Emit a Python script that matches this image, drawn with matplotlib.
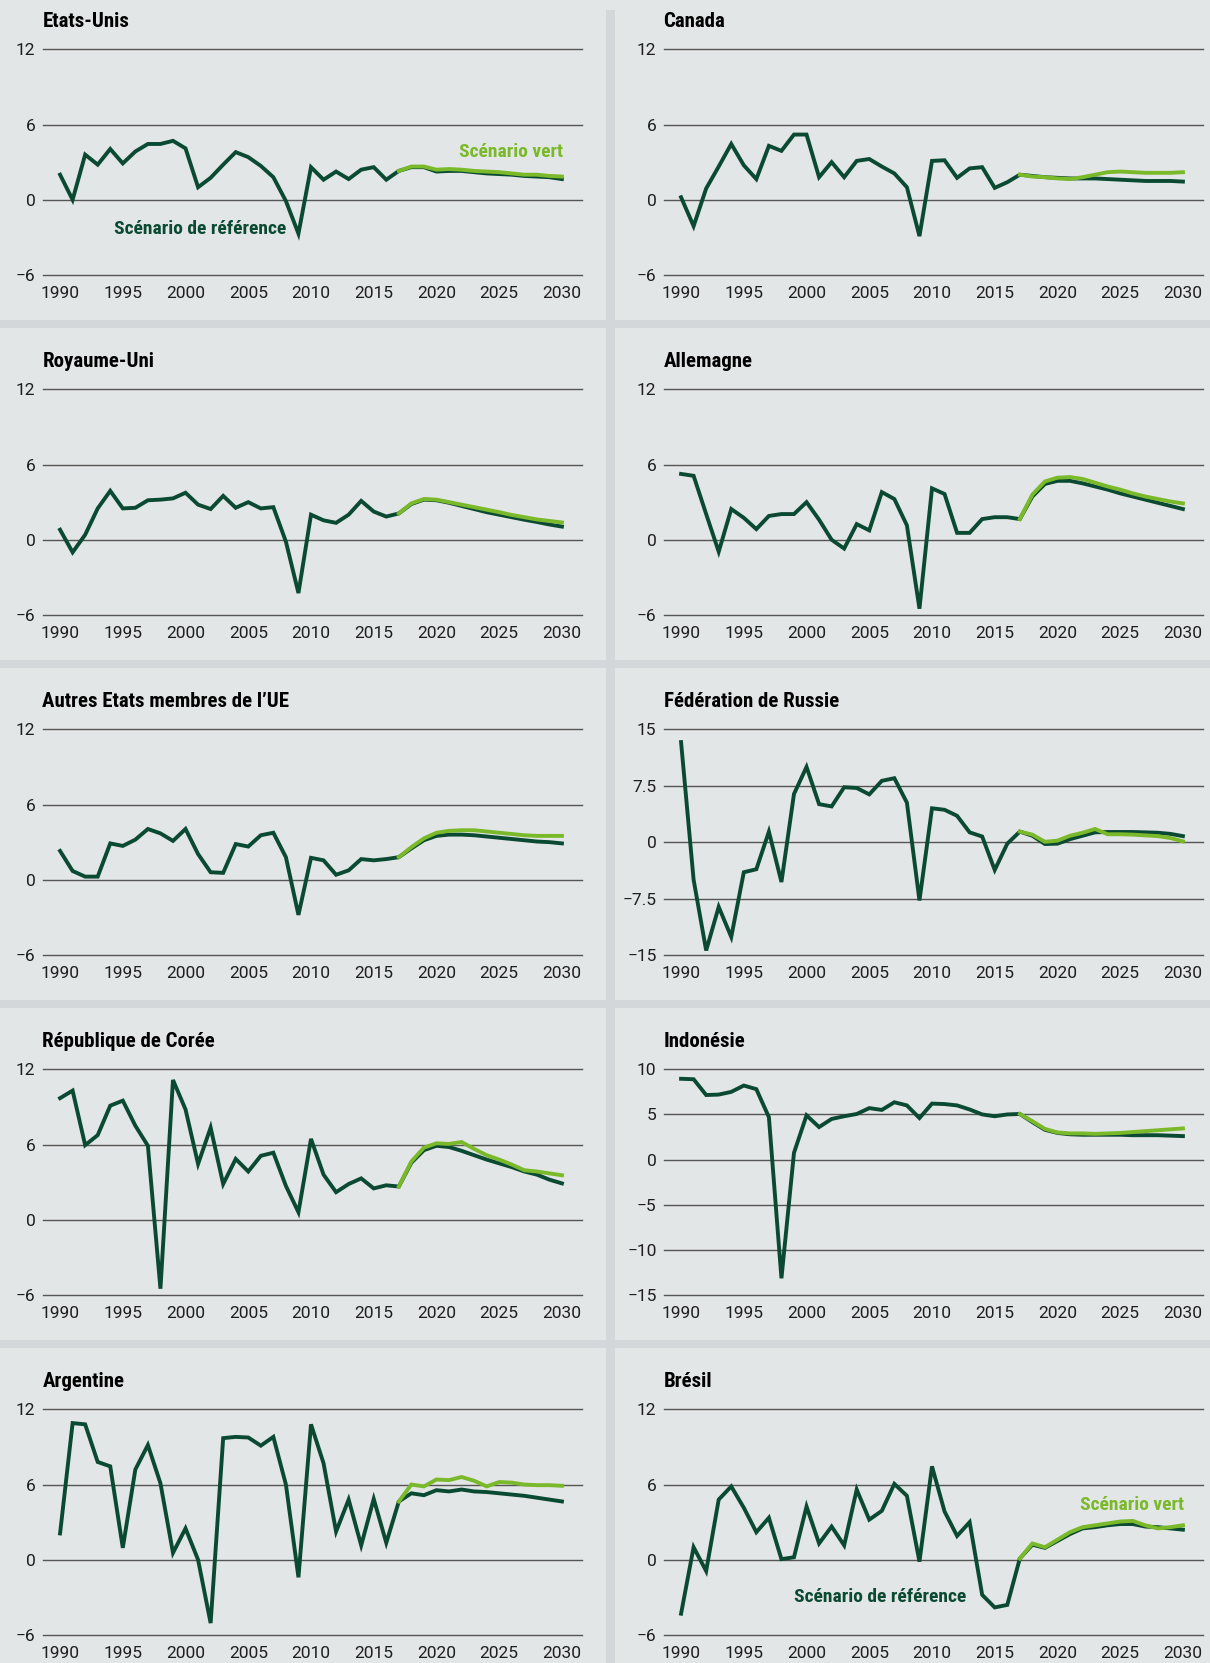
import matplotlib
matplotlib.use("Agg")
import matplotlib.pyplot as plt
from matplotlib import font_manager
from matplotlib.patches import Rectangle
from matplotlib.ticker import FuncFormatter

# years
hist_years = list(range(1990, 2018))
proj_years = list(range(2017, 2031))

# growth rates (%), historical 1990-2017, then projections 2018-2030
us_hist = [2.0, 0.0, 3.6, 2.8, 4.05, 2.9, 3.85, 4.45, 4.45, 4.7, 4.1, 1.0, 1.75, 2.8,
           3.8, 3.4, 2.7, 1.8, -0.1, -2.7, 2.6, 1.6, 2.25, 1.65, 2.4, 2.6, 1.6, 2.3]
us_ref = [2.6, 2.6, 2.25, 2.3, 2.3, 2.2, 2.1, 2.05, 2.0, 1.9, 1.85, 1.8, 1.65]
us_vert = [2.65, 2.65, 2.4, 2.45, 2.4, 2.3, 2.25, 2.2, 2.1, 2.0, 2.0, 1.9, 1.85]

ca_hist = [0.2, -2.1, 0.9, 2.65, 4.45, 2.75, 1.65, 4.3, 3.9, 5.2, 5.2, 1.8, 3.0, 1.8,
           3.1, 3.25, 2.65, 2.1, 1.0, -2.9, 3.1, 3.15, 1.75, 2.5, 2.6, 0.95, 1.4, 2.0]
ca_ref = [1.9, 1.8, 1.75, 1.7, 1.7, 1.7, 1.65, 1.6, 1.55, 1.5, 1.5, 1.5, 1.45]
ca_vert = [1.85, 1.8, 1.7, 1.65, 1.8, 2.0, 2.2, 2.25, 2.2, 2.15, 2.15, 2.15, 2.2]

uk_hist = [0.8, -1.0, 0.4, 2.5, 3.9, 2.5, 2.55, 3.15, 3.2, 3.3, 3.75, 2.8, 2.45, 3.5,
           2.55, 3.0, 2.5, 2.6, -0.15, -4.25, 2.0, 1.55, 1.35, 2.0, 3.1, 2.25, 1.85, 2.1]
uk_ref = [2.85, 3.2, 3.15, 2.95, 2.7, 2.45, 2.2, 2.0, 1.8, 1.6, 1.42, 1.22, 1.05]
uk_vert = [2.9, 3.25, 3.2, 3.0, 2.8, 2.6, 2.4, 2.2, 1.98, 1.8, 1.62, 1.5, 1.38]

de_hist = [5.25, 5.1, 2.05, -0.95, 2.45, 1.75, 0.85, 1.9, 2.05, 2.05, 3.0, 1.6, 0.0, -0.7,
           1.25, 0.75, 3.8, 3.25, 1.15, -5.5, 4.1, 3.65, 0.55, 0.55, 1.65, 1.8, 1.8, 1.65]
de_ref = [3.45, 4.45, 4.7, 4.7, 4.5, 4.25, 4.0, 3.7, 3.45, 3.2, 2.95, 2.7, 2.45]
de_vert = [3.6, 4.65, 4.95, 5.0, 4.85, 4.55, 4.25, 4.0, 3.7, 3.45, 3.25, 3.05, 2.9]

eu_hist = [2.3, 0.7, 0.25, 0.25, 2.9, 2.7, 3.2, 4.05, 3.7, 3.1, 4.05, 2.05, 0.6, 0.55,
           2.85, 2.65, 3.55, 3.75, 1.8, -2.8, 1.75, 1.55, 0.4, 0.75, 1.65, 1.55, 1.65, 1.8]
eu_ref = [2.5, 3.15, 3.5, 3.6, 3.6, 3.55, 3.45, 3.35, 3.25, 3.15, 3.05, 3.0, 2.9]
eu_vert = [2.6, 3.3, 3.75, 3.9, 3.95, 3.95, 3.85, 3.75, 3.65, 3.55, 3.5, 3.5, 3.5]

ru_hist = [13.3, -5.0, -14.4, -8.6, -12.6, -4.0, -3.6, 1.4, -5.3, 6.4, 10.0, 5.05, 4.75, 7.3,
           7.2, 6.35, 8.15, 8.5, 5.25, -7.75, 4.5, 4.3, 3.5, 1.3, 0.75, -3.7, -0.2, 1.4]
ru_ref = [0.85, -0.25, -0.2, 0.4, 0.85, 1.3, 1.35, 1.35, 1.35, 1.3, 1.25, 1.1, 0.8]
ru_vert = [1.0, 0.05, 0.2, 0.85, 1.25, 1.75, 1.05, 1.05, 1.0, 0.9, 0.8, 0.55, 0.1]

kr_hist = [9.7, 10.3, 5.95, 6.75, 9.1, 9.5, 7.5, 5.9, -5.5, 11.15, 8.8, 4.45, 7.35, 2.85,
           4.85, 3.85, 5.1, 5.35, 2.7, 0.6, 6.45, 3.6, 2.2, 2.85, 3.3, 2.5, 2.75, 2.65]
kr_ref = [4.55, 5.55, 5.9, 5.8, 5.5, 5.15, 4.8, 4.5, 4.2, 3.85, 3.6, 3.2, 2.9]
kr_vert = [4.65, 5.75, 6.1, 6.05, 6.2, 5.65, 5.15, 4.8, 4.4, 3.95, 3.85, 3.7, 3.55]

id_hist = [8.95, 8.9, 7.15, 7.2, 7.5, 8.2, 7.8, 4.7, -13.15, 0.75, 4.9, 3.6, 4.5, 4.8,
           5.05, 5.7, 5.5, 6.35, 6.0, 4.6, 6.2, 6.15, 6.0, 5.55, 5.0, 4.8, 5.0, 5.05]
id_ref = [4.15, 3.3, 2.95, 2.8, 2.75, 2.75, 2.75, 2.75, 2.7, 2.7, 2.7, 2.65, 2.6]
id_vert = [4.25, 3.4, 3.0, 2.9, 2.9, 2.85, 2.9, 2.95, 3.05, 3.15, 3.25, 3.35, 3.45]

ar_hist = [2.1, 10.9, 10.8, 7.8, 7.45, 0.95, 7.2, 9.15, 6.1, 0.55, 2.5, 0.0, -5.05, 9.7,
           9.8, 9.75, 9.1, 9.8, 6.0, -1.4, 10.8, 7.7, 2.25, 4.8, 1.15, 4.85, 1.35, 4.65]
ar_ref = [5.3, 5.15, 5.55, 5.45, 5.6, 5.45, 5.4, 5.3, 5.2, 5.1, 4.95, 4.8, 4.65]
ar_vert = [6.0, 5.85, 6.4, 6.35, 6.6, 6.3, 5.85, 6.2, 6.15, 6.0, 5.95, 5.95, 5.9]

br_hist = [-4.3, 1.0, -0.9, 4.8, 5.85, 4.15, 2.2, 3.35, 0.05, 0.2, 4.25, 1.3, 2.65, 1.15,
           5.6, 3.2, 3.9, 6.05, 5.1, -0.15, 7.45, 3.85, 1.9, 3.0, -2.8, -3.8, -3.6, 0.1]
br_ref = [1.2, 0.95, 1.5, 2.05, 2.5, 2.6, 2.75, 2.85, 2.85, 2.65, 2.6, 2.5, 2.4]
br_vert = [1.3, 1.0, 1.6, 2.2, 2.6, 2.75, 2.9, 3.05, 3.1, 2.75, 2.5, 2.6, 2.75]

titles = ["Etats-Unis", "Canada", "Royaume-Uni", "Allemagne",
          "Autres Etats membres de l\u2019UE", "Fédération de Russie",
          "République de Corée", "Indonésie", "Argentine", "Brésil"]
yticks_std = [-6, 0, 6, 12]
yticks_ru = [-15, -7.5, 0, 7.5, 15]
yticks_id = [-15, -10, -5, 0, 5, 10]
xticks = [1990, 1995, 2000, 2005, 2010, 2015, 2020, 2025, 2030]

panels = [
    (us_hist, us_ref, us_vert, yticks_std),
    (ca_hist, ca_ref, ca_vert, yticks_std),
    (uk_hist, uk_ref, uk_vert, yticks_std),
    (de_hist, de_ref, de_vert, yticks_std),
    (eu_hist, eu_ref, eu_vert, yticks_std),
    (ru_hist, ru_ref, ru_vert, yticks_ru),
    (kr_hist, kr_ref, kr_vert, yticks_std),
    (id_hist, id_ref, id_vert, yticks_id),
    (ar_hist, ar_ref, ar_vert, yticks_std),
    (br_hist, br_ref, br_vert, yticks_std),
]

# colours
PANEL = "#e3e6e6"
SEP = "#d3d7d9"
DARK = "#0b4a32"
LIGHT = "#7ab929"
GRID = "#555555"
TXT = "#1e1e1e"

# condensed bold for titles, plain sans for the tick numbers
names = {f.name for f in font_manager.fontManager.ttflist}
FONT = "DejaVu Sans"
for cand in ["Roboto Condensed", "Fira Sans Condensed", "Archivo Narrow",
             "PT Sans Narrow", "Barlow Semi Condensed", "Liberation Sans Narrow"]:
    if cand in names:
        FONT = cand
        break
TICKFONT = "Roboto" if "Roboto" in names else "DejaVu Sans"
plt.rcParams["font.family"] = [FONT, "DejaVu Sans"]

W, H = 1210, 1663
fig = plt.figure(figsize=(W / 100, H / 100), dpi=100, facecolor=PANEL)


def px_rect(x0, y0, x1, y1):
    # pixel box (top-left origin) -> figure fraction [l, b, w, h]
    return [x0 / W, 1 - y1 / H, (x1 - x0) / W, (y1 - y0) / H]


# separators between panels
for k in range(4):
    l, b, w, h = px_rect(0, 320 + 340 * k, W, 328 + 340 * k)
    fig.add_artist(Rectangle((l, b), w, h, transform=fig.transFigure,
                             facecolor=SEP, edgecolor="none", zorder=0))
l, b, w, h = px_rect(606, 10, 615, H)
fig.add_artist(Rectangle((l, b), w, h, transform=fig.transFigure,
                         facecolor=SEP, edgecolor="none", zorder=0))

fmt = FuncFormatter(lambda v, p: f"{v:g}".replace("-", "\u2212"))

axes = []
for i, (hist, ref, vert, yt) in enumerate(panels):
    col, row = i % 2, i // 2
    x0, x1 = (42.5, 582) if col == 0 else (663.5, 1203)
    y0, y1 = 49.3 + 340 * row, 275 + 340 * row
    ax = fig.add_axes(px_rect(x0, y0, x1, y1))
    ax.set_facecolor("none")
    for s in ax.spines.values():
        s.set_visible(False)

    ax.plot(hist_years + proj_years[1:], hist + ref, color=DARK, lw=2.8,
            solid_joinstyle="miter", zorder=3)
    ax.plot(proj_years, [hist[-1]] + vert, color=LIGHT, lw=2.8,
            solid_joinstyle="miter", zorder=4)

    ax.set_xlim(1988.6, 2031.6)
    ax.set_ylim(yt[0], yt[-1])
    ax.set_yticks(yt)
    ax.set_xticks(xticks)
    ax.yaxis.set_major_formatter(fmt)
    ax.tick_params(length=0, labelsize=12.5, colors=TXT)
    ax.tick_params(axis="y", pad=5)
    ax.tick_params(axis="x", pad=8)
    for t in ax.get_xticklabels() + ax.get_yticklabels():
        t.set_fontfamily(TICKFONT)
        t.set_fontweight("normal")
    ax.grid(axis="y", color=GRID, lw=1.0)
    ax.grid(axis="x", visible=False)
    for gl in ax.get_ygridlines():
        gl.set_clip_on(False)
    ax.set_axisbelow(True)

    fig.text(x0 / W, 1 - (27 + 340 * row) / H, titles[i], fontsize=15,
             fontweight="bold", color="black", va="baseline", ha="left")
    axes.append(ax)

# scenario labels
lab = dict(fontsize=14, fontweight="bold", ha="right", va="center")
axes[0].text(2030.1, 3.8, "Scénario vert", color=LIGHT, **lab)
axes[0].text(2008.0, -2.3, "Scénario de référence", color=DARK, **lab)
axes[9].text(2030.05, 4.35, "Scénario vert", color=LIGHT, **lab)
axes[9].text(2012.7, -3.0, "Scénario de référence", color=DARK, **lab)

fig.savefig("out.png", dpi=100, facecolor=PANEL)
